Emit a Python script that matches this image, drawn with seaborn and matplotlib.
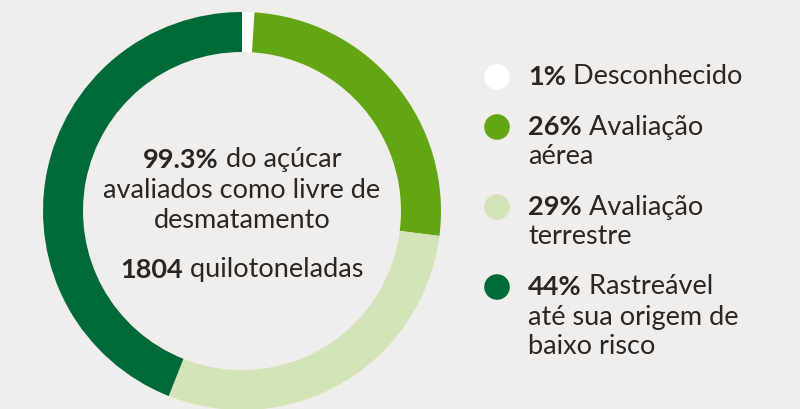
import matplotlib
matplotlib.use("Agg")
import matplotlib.pyplot as plt
import seaborn as sns
import pandas as pd

# donut shares, clockwise from 12 o'clock
categories = ["Desconhecido", "Avaliação aérea", "Avaliação terrestre", "Rastreável"]
shares = [1, 26, 29, 44]
pct_labels = ["1%", "26%", "29%", "44%"]
legend_lines = [
    ["Desconhecido"],
    ["Avaliação", "aérea"],
    ["Avaliação", "terrestre"],
    ["Rastreável", "até sua origem de", "baixo risco"],
]
colors = ["#ffffff", "#62a614", "#d3e4b8", "#006b39"]

center_lines = [("99.3%", "do açúcar"), ("", "avaliados como livre de"), ("", "desmatamento"), ("1804", "quilotoneladas")]

BG = "#f0eeec"
TXT = "#2d2520"
FS = 19.5

sns.set_style("white")
plt.rcParams["font.family"] = ["Lato", "DejaVu Sans"]

W, H = 800, 409
fig = plt.figure(figsize=(8, 4.09), dpi=100, facecolor=BG)
ax = fig.add_axes([0, 0, 1, 1])
ax.set_facecolor(BG)

# donut (pixel coords, y up)
cx, cy, r = 242, H - 211, 199
ax.pie(shares, colors=colors, startangle=90, counterclock=False, center=(cx, cy),
       radius=r, wedgeprops=dict(width=40, linewidth=0), frame=True)
ax.set_xlim(0, W)
ax.set_ylim(0, H)
ax.set_aspect("equal")
ax.axis("off")

renderer = fig.canvas.get_renderer()


def width_of(t):
    return t.get_window_extent(renderer=renderer).width


# center text
center_y = [160, 190, 220, 270]
for (b, rtxt), py in zip(center_lines, center_y):
    y = H - py
    if b:
        tb = ax.text(0, y, b, fontsize=FS, fontweight="bold", color=TXT, va="center")
        tr = ax.text(0, y, " " + rtxt, fontsize=FS, color=TXT, va="center")
        wb, wr = width_of(tb), width_of(tr)
        x0 = cx - (wb + wr) / 2
        tb.set_x(x0)
        tr.set_x(x0 + wb)
    else:
        ax.text(cx, y, rtxt, fontsize=FS, color=TXT, va="center", ha="center")

# legend
dot_x, text_x = 497, 528
py = 77
dots = []
for pct, lines, col in zip(pct_labels, legend_lines, colors):
    dots.append((dot_x, H - py, col))
    tb = ax.text(text_x, H - py, pct, fontsize=FS, fontweight="bold", color=TXT, va="center")
    wb = width_of(tb)
    ax.text(text_x + wb, H - py, " " + lines[0], fontsize=FS, color=TXT, va="center")
    for extra in lines[1:]:
        py += 30
        ax.text(text_x, H - py, extra, fontsize=FS, color=TXT, va="center")
    py += 50

dots_df = pd.DataFrame(dots, columns=["x", "y", "c"])
dots_df["cat"] = categories
sns.scatterplot(data=dots_df, x="x", y="y", hue="cat", palette=dict(zip(categories, colors)),
                s=340, linewidth=0, legend=False, ax=ax)
ax.set_xlim(0, W)
ax.set_ylim(0, H)
ax.axis("off")

fig.savefig("out.png", dpi=100, facecolor=BG)
